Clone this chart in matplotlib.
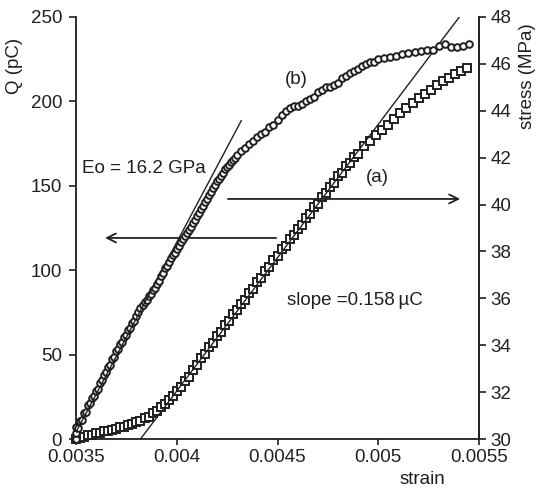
import matplotlib
matplotlib.use("Agg")
import matplotlib.pyplot as plt

plt.rcParams['font.family'] = ['Liberation Sans', 'DejaVu Sans']
plt.rcParams['font.size'] = 13.5

# (a) charge Q (pC) vs strain  -- left axis
strain_a = [0.00350, 0.00352, 0.00354, 0.00356, 0.00358, 0.00360, 0.00362, 0.00364,
            0.00366, 0.00368, 0.00370, 0.00372, 0.00374, 0.00376, 0.00378, 0.00380,
            0.00382, 0.00384, 0.00386, 0.00388, 0.00390, 0.00392, 0.00394, 0.00396,
            0.00398, 0.00400, 0.00402, 0.00404, 0.00406, 0.00408, 0.00410, 0.00412,
            0.00414, 0.00416, 0.00418, 0.00420, 0.00422, 0.00424, 0.00426, 0.00428,
            0.00430, 0.00432, 0.00434, 0.00436, 0.00438, 0.00440, 0.00442, 0.00444,
            0.00446, 0.00448, 0.00450, 0.00452, 0.00454, 0.00456, 0.00458, 0.00460,
            0.00462, 0.00464, 0.00466, 0.00468, 0.00470, 0.00472, 0.00474, 0.00476,
            0.00478, 0.00480, 0.00482, 0.00484, 0.00486, 0.00488, 0.00490,
            0.00493, 0.00496, 0.00499, 0.00502, 0.00505, 0.00508, 0.00511, 0.00514,
            0.00517, 0.00520, 0.00523, 0.00526, 0.00529, 0.00532, 0.00535, 0.00538,
            0.00541, 0.00544]
q_a = [0.0, 0.8, 1.4, 2.2, 2.6, 3.4, 3.7, 4.5,
       4.9, 5.6, 6.1, 6.9, 7.4, 8.3, 8.8, 9.8,
       10.6, 12.2, 13.3, 15.3, 16.6, 19.0, 20.6, 23.4,
       25.3, 28.6, 30.9, 34.6, 36.9, 41.0, 43.8, 47.9,
       50.6, 54.3, 57.1, 61.2, 63.6, 67.6, 70.1, 74.0,
       76.3, 80.2, 82.6, 86.7, 89.0, 93.2, 95.4, 99.6,
       101.8, 106.0, 108.2, 112.3, 114.5, 118.6, 120.8, 124.6,
       127.0, 131.0, 133.2, 137.2, 139.4, 143.2, 145.6, 149.4,
       151.8, 155.6, 157.8, 161.6, 163.6, 167.0, 169.0,
       173.5, 176.5, 180.0, 183.0, 186.0, 189.5, 193.0, 196.0,
       199.0, 202.0, 204.5, 207.0, 209.5, 212.0, 214.0, 216.0,
       218.0, 219.5]

# (b) stress (MPa) vs strain -- right axis
strain_b = [0.00350, 0.00350, 0.00350, 0.00351, 0.00352, 0.00353, 0.00354, 0.00355,
            0.00356, 0.00357, 0.00358, 0.00359, 0.00360, 0.00361, 0.00362, 0.00363,
            0.00364, 0.00365, 0.00366, 0.00367, 0.00368, 0.00369, 0.00370, 0.00371,
            0.00372, 0.00373, 0.00374, 0.00375, 0.00376, 0.00377, 0.00378, 0.00379,
            0.00380, 0.00381, 0.00382, 0.00383, 0.00384, 0.00385, 0.00386, 0.00387,
            0.00388, 0.00389, 0.00390, 0.00391, 0.00392, 0.00393, 0.00394, 0.00395,
            0.00396, 0.00397, 0.00398, 0.00399, 0.00400, 0.00401, 0.00402, 0.00403,
            0.00404, 0.00405, 0.00406, 0.00407, 0.00408, 0.00409, 0.00410, 0.00411,
            0.00412, 0.00413, 0.00414, 0.00415, 0.00416, 0.00417, 0.00418, 0.00419,
            0.00420, 0.00421, 0.00422, 0.00423, 0.00424, 0.00425, 0.00426, 0.00427,
            0.00428, 0.00429, 0.00430,
            0.00432, 0.00434, 0.00436, 0.00438, 0.00440, 0.00442, 0.00444, 0.00446,
            0.00448, 0.00450, 0.00452, 0.00454, 0.00456, 0.00458, 0.00460, 0.00462,
            0.00464, 0.00466, 0.00468, 0.00470, 0.00472, 0.00474, 0.00476, 0.00478,
            0.00480, 0.00482, 0.00484, 0.00486, 0.00488, 0.00490, 0.00492, 0.00494,
            0.00496, 0.00498, 0.00500,
            0.00503, 0.00506, 0.00509, 0.00512, 0.00515, 0.00518, 0.00521, 0.00524,
            0.00527, 0.00530, 0.00533, 0.00536, 0.00539, 0.00542, 0.00545]
stress_b = [30.00, 30.25, 30.50, 30.45, 30.75, 30.80, 31.10, 31.15,
            31.45, 31.55, 31.75, 31.85, 32.05, 32.15, 32.40, 32.50,
            32.75, 32.85, 33.05, 33.15, 33.40, 33.50, 33.75, 33.85,
            34.05, 34.15, 34.35, 34.45, 34.65, 34.75, 34.95, 35.05,
            35.25, 35.40, 35.60, 35.70, 35.85, 35.95, 36.10, 36.20,
            36.35, 36.45, 36.60, 36.75, 36.95, 37.10, 37.30, 37.40,
            37.55, 37.70, 37.85, 37.95, 38.10, 38.25, 38.40, 38.55,
            38.65, 38.80, 38.90, 39.05, 39.20, 39.35, 39.50, 39.65,
            39.80, 39.95, 40.10, 40.25, 40.40, 40.55, 40.70, 40.85,
            41.00, 41.10, 41.20, 41.35, 41.50, 41.60, 41.70, 41.80,
            41.90, 42.00, 42.10,
            42.30, 42.40, 42.60, 42.70, 42.90, 43.00, 43.10, 43.30,
            43.40, 43.60, 43.80, 44.00, 44.10, 44.20, 44.20, 44.30,
            44.40, 44.50, 44.60, 44.80, 44.90, 45.00, 45.00, 45.10,
            45.20, 45.40, 45.50, 45.60, 45.70, 45.80, 45.90, 46.00,
            46.10, 46.10, 46.20,
            46.25, 46.30, 46.35, 46.40, 46.45, 46.50, 46.55, 46.60,
            46.60, 46.75, 46.85, 46.70, 46.70, 46.75, 46.85]

# fitted lines
slope_a = 158000.0      # pC per unit strain (0.158 uC)
x0_a = 0.00382          # strain intercept of (a) fit
line_a_x = [0.00382, 0.00541]
E0 = 16200.0            # MPa per unit strain (16.2 GPa)
x0_b = 0.003482         # strain where fit reaches 30 MPa
line_b_x = [0.00350, 0.00432]

xticks = [0.0035, 0.004, 0.0045, 0.005, 0.0055]
xticklabels = ['0.0035', '0.004', '0.0045', '0.005', '0.0055']
q_ticks = [0, 50, 100, 150, 200, 250]
s_ticks = [30, 32, 34, 36, 38, 40, 42, 44, 46, 48]

fig = plt.figure(figsize=(5.36, 4.88), dpi=100)
ax = fig.add_axes([0.1418, 0.1004, 0.7519, 0.8648])
ax2 = ax.twinx()

ink = '#231f20'
ax.plot(strain_a, q_a, linestyle='none', marker='s', ms=5.8, mfc='white',
        mec=ink, mew=1.4, clip_on=False, zorder=3)
ax2.plot(strain_b, stress_b, linestyle='none', marker='o', ms=4.8, mfc='white',
         mec=ink, mew=1.4, clip_on=False, zorder=3)

la_y = [slope_a * (x - x0_a) for x in line_a_x]
ax.plot(line_a_x, la_y, color=ink, lw=1.0, zorder=4)
lb_y = [30 + E0 * (x - x0_b) for x in line_b_x]
ax2.plot(line_b_x, lb_y, color=ink, lw=1.0, zorder=4)

ax.set_xlim(0.0035, 0.0055)
ax.set_ylim(0, 250)
ax2.set_ylim(30, 48)
ax.set_xticks(xticks)
ax.set_xticklabels(xticklabels)
ax.set_yticks(q_ticks)
ax2.set_yticks(s_ticks)

for a in (ax, ax2):
    a.spines['top'].set_visible(False)
    for sp in a.spines.values():
        sp.set_linewidth(1.3)
        sp.set_color(ink)
    a.tick_params(direction='out', length=5, width=1.2, color=ink, labelcolor=ink)
ax.tick_params(axis='x', length=4, pad=3)
ax.tick_params(axis='y', pad=5)
ax2.tick_params(axis='y', pad=3)
ax2.spines['left'].set_visible(False)
ax2.spines['bottom'].set_visible(False)

ax.set_ylabel('Q (pC)', color=ink)
ax.yaxis.set_label_coords(-0.131, 0.885)
ax2.set_ylabel('stress (MPa)', color=ink, rotation=90)
ax2.yaxis.set_label_coords(1.10, 0.86)
ax.set_xlabel('strain', color=ink)
ax.xaxis.set_label_coords(0.86, -0.075)

ax.text(0.004592, 212.7, '(b)', ha='center', va='center', color=ink)
ax.text(0.004994, 155.2, '(a)', ha='center', va='center', color=ink)
ax.text(0.00353, 160.5, 'Eo = 16.2 GPa', ha='left', va='center', color=ink)
ax.text(0.004547, 82.3, 'slope =0.158\u2009\u00b5C', ha='left', va='center', color=ink)

ax.annotate('', xy=(0.003644, 119.1), xytext=(0.004493, 119.1),
            arrowprops=dict(arrowstyle='->', color=ink, lw=1.3,
                            mutation_scale=16, shrinkA=0, shrinkB=0))
ax.annotate('', xy=(0.005406, 142.2), xytext=(0.004254, 142.2),
            arrowprops=dict(arrowstyle='->', color=ink, lw=1.3,
                            mutation_scale=16, shrinkA=0, shrinkB=0))

fig.savefig('out.png', dpi=100)
